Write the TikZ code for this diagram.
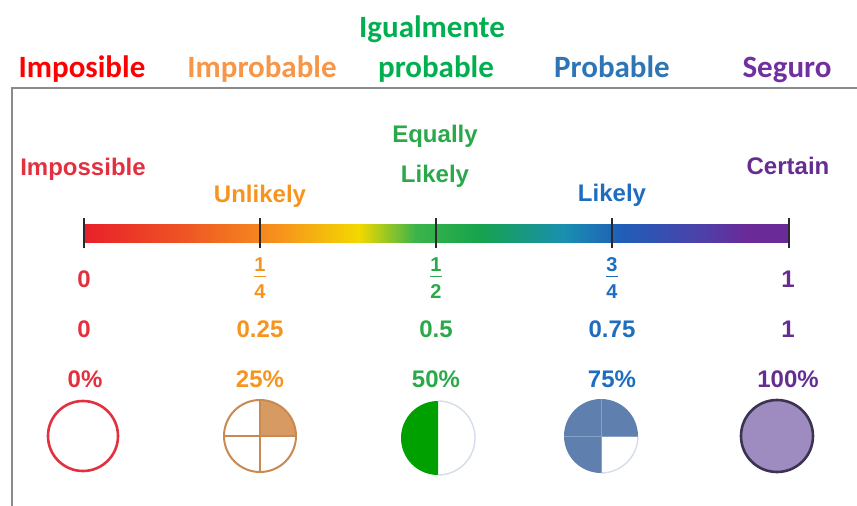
\documentclass[tikz,border=0pt]{standalone}
\usepackage{fontspec}
\usepackage{graphicx}
\setmainfont{Liberation Sans}
\newfontfamily\calibfont{Carlito}
\definecolor{framegray}{HTML}{8A8A8A}
\definecolor{esred}{HTML}{FF0000}
\definecolor{esorange}{HTML}{F79646}
\definecolor{esgreen}{HTML}{00B050}
\definecolor{esblue}{HTML}{2E75B6}
\definecolor{espurple}{HTML}{7030A0}
\definecolor{cred}{HTML}{E3303F}
\definecolor{corange}{HTML}{F7941D}
\definecolor{cgreen}{HTML}{2BA84A}
\definecolor{cblue}{HTML}{1F6DBF}
\definecolor{cpurple}{HTML}{662D91}
\definecolor{barred}{HTML}{E8202A}
\definecolor{barorangered}{HTML}{EE5424}
\definecolor{barorange}{HTML}{F7941D}
\definecolor{baryellow}{HTML}{F2D800}
\definecolor{bargreen}{HTML}{3CB44A}
\definecolor{bargreenb}{HTML}{16A34C}
\definecolor{barteal}{HTML}{1A8FB0}
\definecolor{barblue}{HTML}{1F5FB8}
\definecolor{barviolet}{HTML}{4F3FA8}
\definecolor{barpurple}{HTML}{6A2A98}
\definecolor{tickc}{HTML}{2A2A2A}
\definecolor{qstroke}{HTML}{C98A52}
\definecolor{qfill}{HTML}{D69A62}
\definecolor{hgreen}{HTML}{00A000}
\definecolor{lightring}{HTML}{D5DCEB}
\definecolor{tqfill}{HTML}{5F80AE}
\definecolor{tqline}{HTML}{86A0C6}
\definecolor{fullfill}{HTML}{9E8BC0}
\definecolor{fullstroke}{HTML}{3C3450}
\pgfdeclarehorizontalshading{rainbowbar}{100bp}{color(0bp)=(barred); color(25bp)=(barred); color(32bp)=(barorangered); color(39bp)=(barorange); color(44.5bp)=(baryellow); color(48.5bp)=(bargreen); color(53bp)=(bargreenb); color(59bp)=(barteal); color(63bp)=(barblue); color(69bp)=(barviolet); color(72bp)=(barpurple); color(75bp)=(barpurple); color(100bp)=(barpurple)}
\tikzset{
  es/.style={anchor=base, inner sep=0pt, font=\calibfont\bfseries\fontsize{31}{31}\selectfont},
  en/.style={anchor=base, inner sep=0pt, font=\bfseries\fontsize{24}{24}\selectfont},
  fr/.style={anchor=base, inner sep=0pt, font=\bfseries\fontsize{20}{20}\selectfont},
  tickmark/.style={draw=tickc, line width=2.6pt},
  fracbar/.style={line width=1pt},
}
\begin{document}
\begin{tikzpicture}[x=1pt,y=-1pt]
\useasboundingbox (0,0) rectangle (857,506);
% frame
\draw[framegray, line width=2.5pt] (12,506) -- (12,88) -- (857,88);
% Spanish labels
\node[es, text=esred] (esimp) at (82,77) {Imposible};
\node[es, text=esorange] (esimpr) at (262,77) {Improbable};
\node[es, text=esgreen] (esigua) at (432,37) {Igualmente};
\node[es, text=esgreen] (esprobb) at (436,77) {probable};
\node[es, text=esblue] (esprob) at (612,77) {Probable};
\node[es, text=espurple] (esseg) at (787,77) {Seguro};
% English labels
\node[en, text=cred] (enimp) at (83,175) {Impossible};
\node[en, text=corange] (enunl) at (260,202) {Unlikely};
\node[en, text=cgreen] (enequ) at (435,142) {Equally};
\node[en, text=cgreen] (enlik1) at (435,182) {Likely};
\node[en, text=cblue] (enlik) at (612,201) {Likely};
\node[en, text=cpurple] (encer) at (788,174) {Certain};
% gradient bar
\shade[shading=rainbowbar] (84,224) rectangle (789,242);
\foreach \tx in {84,260,436,612,789}{
  \draw[tickmark] (\tx,218) -- (\tx,248);
}
% fractions row
\node[en, text=cred] (fzero) at (84,287) {0};
\node[fr, text=corange] (fqn) at (260,271) {1};
\draw[corange, fracbar] (254,276) -- (266,276);
\node[fr, text=corange] (fqd) at (260,298) {4};
\node[fr, text=cgreen] (fhn) at (436,271) {1};
\draw[cgreen, fracbar] (430,276) -- (442,276);
\node[fr, text=cgreen] (fhd) at (436,298) {2};
\node[fr, text=cblue] (ftn) at (612,271) {3};
\draw[cblue, fracbar] (606,276) -- (618,276);
\node[fr, text=cblue] (ftd) at (612,298) {4};
\node[en, text=cpurple] (fone) at (788,287) {1};
% decimals row
\node[en, text=cred] (dzero) at (84,337) {0};
\node[en, text=corange] (dq) at (260,337) {0.25};
\node[en, text=cgreen] (dh) at (436,337) {0.5};
\node[en, text=cblue] (dt) at (612,337) {0.75};
\node[en, text=cpurple] (done) at (788,337) {1};
% percent row
\node[en, text=cred] (pzero) at (85,387) {0\%};
\node[en, text=corange] (pq) at (260,387) {25\%};
\node[en, text=cgreen] (ph) at (436,387) {50\%};
\node[en, text=cblue] (pt) at (612,387) {75\%};
\node[en, text=cpurple] (pone) at (788,387) {100\%};
% circles
\draw[cred, line width=2.6pt, fill=white] (83,436) circle[radius=35];
% quarter
\fill[qfill] (260,436) -- ++(36,0) arc[start angle=0, end angle=-90, radius=36] -- cycle;
\draw[qstroke, line width=2pt] (260,436) circle[radius=36];
\draw[qstroke, line width=2pt] (224,436) -- (296,436) (260,400) -- (260,472);
% half
\fill[hgreen] (438,438) -- ++(0,37) arc[start angle=90, end angle=270, radius=37] -- cycle;
\draw[lightring, line width=1.4pt] (438,475) arc[start angle=90, end angle=-90, radius=37];
% three quarters
\fill[tqfill] (601,436) -- ++(0,37) arc[start angle=90, end angle=360, radius=37] -- cycle;
\draw[lightring, line width=1.4pt] (601,473) arc[start angle=90, end angle=0, radius=37];
\draw[tqline, line width=0.8pt] (564,436) -- (601,436) -- (601,399) (601,436) -- (638,436) (601,436) -- (601,473);
% full
\draw[fullstroke, fill=fullfill, line width=2.6pt] (777,436) circle[radius=36];
\end{tikzpicture}
\end{document}
